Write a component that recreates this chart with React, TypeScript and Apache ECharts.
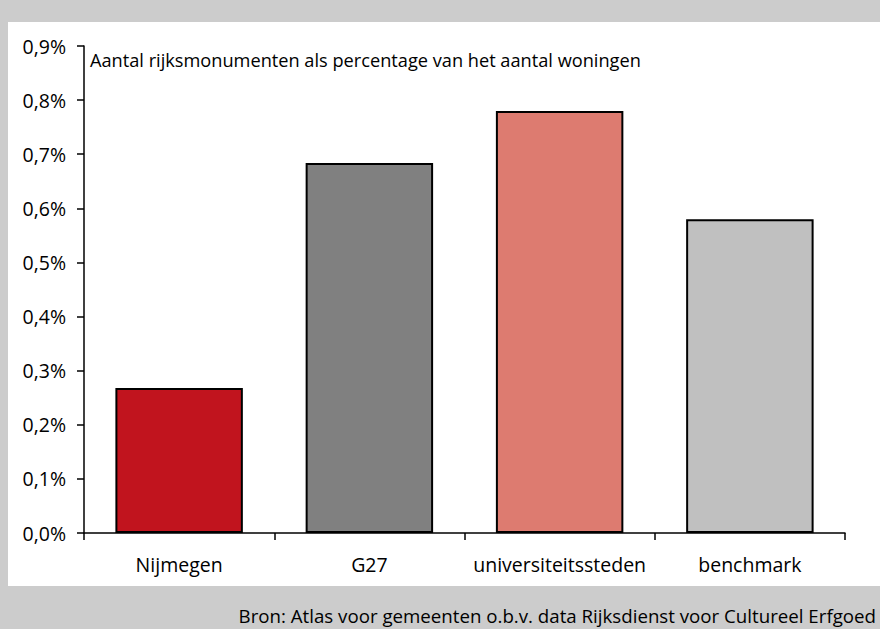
import React, { useEffect, useRef } from "react";
import * as echarts from "echarts";

const categories = ["Nijmegen", "G27", "universiteitssteden", "benchmark"];
const values = [0.268, 0.684, 0.78, 0.58];
const barColors = ["#C1141E", "#808080", "#DD7B70", "#C0C0C0"];
const titleText = "Aantal rijksmonumenten als percentage van het aantal woningen";
const sourceText = "Bron: Atlas voor gemeenten o.b.v. data Rijksdienst voor Cultureel Erfgoed";

const FONT = "'Open Sans', 'Noto Sans', sans-serif";

export default function App() {
  const ref = useRef<HTMLDivElement>(null);
  useEffect(() => {
    document.body.style.margin = "0";
    const chart = echarts.init(ref.current!, undefined, { renderer: "svg" });
    chart.setOption({
      animation: false,
      backgroundColor: "#CCCCCC",
      textStyle: { fontFamily: FONT },
      graphic: [
        {
          type: "rect",
          z: -10,
          shape: { x: 8, y: 22, width: 872, height: 564 },
          style: { fill: "#FFFFFF" },
          silent: true,
        },
        {
          type: "text",
          x: 90,
          y: 60,
          style: {
            text: titleText,
            font: `18.2px ${FONT}`,
            fill: "#000",
            textVerticalAlign: "middle",
          },
        },
        {
          type: "text",
          x: 876,
          y: 615,
          style: {
            text: sourceText,
            font: `18.7px ${FONT}`,
            fill: "#000",
            textAlign: "right",
            textVerticalAlign: "middle",
          },
        },
      ],
      grid: { left: 84, right: 35, top: 46, bottom: 96, containLabel: false },
      xAxis: {
        type: "category",
        data: categories,
        axisLine: { lineStyle: { color: "#000", width: 1.5 } },
        axisTick: { show: true, length: 7, lineStyle: { color: "#000", width: 1.5 } },
        axisLabel: { color: "#000", fontSize: 19.5, margin: 21, interval: 0, fontFamily: FONT },
      },
      yAxis: {
        type: "value",
        min: 0,
        max: 0.9,
        interval: 0.1,
        splitLine: { show: false },
        axisLine: { show: true, lineStyle: { color: "#000", width: 1.5 } },
        axisTick: { show: true, length: 7, lineStyle: { color: "#000", width: 1.5 } },
        axisLabel: {
          color: "#000",
          fontSize: 19.5,
          margin: 18,
          fontFamily: FONT,
          formatter: (v: number) => v.toFixed(1).replace(".", ",") + "%",
        },
      },
      series: [
        {
          type: "bar",
          data: values.map((v, i) => ({
            value: v,
            itemStyle: { color: barColors[i] },
          })),
          barWidth: "67%",
          itemStyle: { borderColor: "#000", borderWidth: 2 },
        },
      ],
    });
    return () => chart.dispose();
  }, []);
  return <div ref={ref} style={{ width: 880, height: 629 }} />;
}
